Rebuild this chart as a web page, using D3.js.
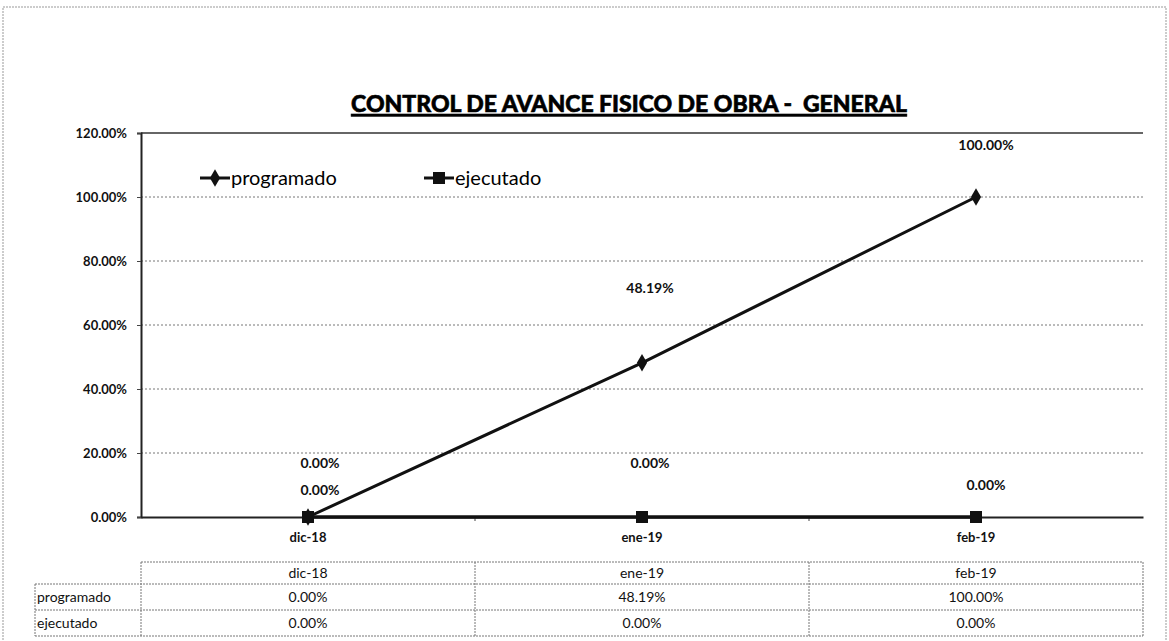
<!DOCTYPE html>
<html>
<head>
<meta charset="utf-8">
<script src="https://cdn.jsdelivr.net/npm/d3@7"></script>
<style>
  body { margin: 0; background: #fff; }
  svg { display: block; font-family: Lato, "Open Sans", sans-serif; }
</style>
</head>
<body>
<svg id="chart" width="1169" height="641"></svg>
<script>
// data
const categories = ['dic-18', 'ene-19', 'feb-19'];
const programado = [0, 0.4819, 1.0];
const ejecutado = [0, 0, 0];
const yTicks = [0, 0.2, 0.4, 0.6, 0.8, 1.0, 1.2];
const seriesNames = ['programado', 'ejecutado'];

const layout = {
  left: 141, right: 1143, top: 133, bottom: 517,
  tableTop: 562, headH: 22, rowH: 26, rowLabelX: 35
};

// labels were nudged by hand in the original sheet
const labelLift = {
  programado: [54, 75, 52],
  ejecutado: [27, 54, 32]
};
const labelShift = [12, 8, 10];

const fmt = d3.format('.2%');
const svg = d3.select('#chart');

const x = d3.scaleBand().domain(categories).range([layout.left, layout.right]);
const y = d3.scaleLinear().domain([0, 1.2]).range([layout.bottom, layout.top]);

// outer chart frame
svg.append('rect')
  .attr('x', 3).attr('y', 7).attr('width', 1163).attr('height', 640)
  .attr('fill', 'none').attr('stroke', '#999').attr('stroke-width', 1)
  .attr('stroke-dasharray', '2,1');

// title
svg.append('text')
  .attr('x', 629).attr('y', 112)
  .attr('text-anchor', 'middle')
  .attr('font-size', 23).attr('font-weight', 900)
  .attr('text-decoration', 'underline')
  .attr('stroke', '#000').attr('stroke-width', 0.6)
  .style('white-space', 'pre')
  .text('CONTROL DE AVANCE FISICO DE OBRA -  GENERAL');

// gridlines
svg.append('g')
  .selectAll('line')
  .data(yTicks.slice(1))
  .join('line')
    .attr('x1', layout.left).attr('x2', layout.right)
    .attr('y1', d => y(d)).attr('y2', d => y(d))
    .attr('stroke', d => d === 1.2 ? '#333' : '#777')
    .attr('stroke-width', d => d === 1.2 ? 1.5 : 1)
    .attr('stroke-dasharray', d => d === 1.2 ? null : '2,2');

// y axis
const yAxis = svg.append('g')
  .attr('transform', `translate(${layout.left},0)`)
  .call(d3.axisLeft(y).tickValues(yTicks).tickFormat(fmt).tickSize(4).tickPadding(10));
yAxis.select('.domain').attr('stroke', '#222').attr('stroke-width', 2);
yAxis.selectAll('.tick line').attr('stroke', '#444');
yAxis.selectAll('text')
  .attr('font-family', 'Lato, sans-serif')
  .attr('font-size', 13).attr('font-weight', 'bold').attr('fill', '#111');

// x axis
const xAxis = svg.append('g')
  .attr('transform', `translate(0,${layout.bottom})`)
  .call(d3.axisBottom(x).tickSize(0).tickPadding(16));
xAxis.select('.domain').attr('stroke', '#222').attr('stroke-width', 2);
xAxis.selectAll('text')
  .attr('font-family', 'Lato, sans-serif')
  .attr('font-size', 13).attr('font-weight', 'bold').attr('fill', '#111');
xAxis.selectAll('line.sep')
  .data(categories.slice(1))
  .join('line')
    .attr('class', 'sep')
    .attr('x1', d => x(d)).attr('x2', d => x(d))
    .attr('y1', 0).attr('y2', 4)
    .attr('stroke', '#444');

const cx = d => x(d) + x.bandwidth() / 2;
const line = d3.line().x(d => cx(d.cat)).y(d => y(d.v));
const series = {
  programado: categories.map((c, i) => ({cat: c, v: programado[i], i})),
  ejecutado: categories.map((c, i) => ({cat: c, v: ejecutado[i], i}))
};

// ejecutado line with squares
svg.append('path')
  .datum(series.ejecutado)
  .attr('d', line)
  .attr('fill', 'none').attr('stroke', '#111').attr('stroke-width', 3.5);
svg.append('g')
  .selectAll('rect')
  .data(series.ejecutado)
  .join('rect')
    .attr('x', d => cx(d.cat) - 6).attr('y', d => y(d.v) - 6)
    .attr('width', 12).attr('height', 12)
    .attr('fill', '#111');

// programado line with diamonds
const diamond = d3.symbol().type(d3.symbolDiamond).size(90);
svg.append('path')
  .datum(series.programado)
  .attr('d', line)
  .attr('fill', 'none').attr('stroke', '#111').attr('stroke-width', 3);
svg.append('g')
  .selectAll('path')
  .data(series.programado)
  .join('path')
    .attr('d', diamond)
    .attr('transform', d => `translate(${cx(d.cat)},${y(d.v)})`)
    .attr('fill', '#111');

// data labels
seriesNames.forEach(name => {
  svg.append('g')
    .selectAll('text')
    .data(series[name])
    .join('text')
      .attr('x', d => cx(d.cat) + labelShift[d.i])
      .attr('y', d => y(d.v) - labelLift[name][d.i] + 5)
      .attr('text-anchor', 'middle')
      .attr('font-size', 14).attr('font-weight', 'bold').attr('fill', '#111')
      .text(d => fmt(d.v));
});

// legend
const legend = svg.append('g');
legend.append('line').attr('x1', 200).attr('x2', 230).attr('y1', 178).attr('y2', 178)
  .attr('stroke', '#111').attr('stroke-width', 3);
legend.append('path').attr('d', diamond).attr('transform', 'translate(215,178)').attr('fill', '#111');
legend.append('text').attr('x', 231).attr('y', 185).attr('font-size', 20).text('programado');
legend.append('line').attr('x1', 424).attr('x2', 454).attr('y1', 178).attr('y2', 178)
  .attr('stroke', '#111').attr('stroke-width', 3);
legend.append('rect').attr('x', 433).attr('y', 172).attr('width', 12).attr('height', 12).attr('fill', '#111');
legend.append('text').attr('x', 455).attr('y', 185).attr('font-size', 20).text('ejecutado');

// data table under the chart
const table = svg.append('g')
  .attr('stroke', '#777').attr('stroke-width', 1).attr('stroke-dasharray', '2,1');
const t0 = layout.tableTop, t1 = t0 + layout.headH, t2 = t1 + layout.rowH, t3 = t2 + layout.rowH;
table.append('line').attr('x1', layout.left).attr('x2', layout.right).attr('y1', t0).attr('y2', t0);
[t1, t2, t3].forEach(ty => table.append('line')
  .attr('x1', layout.rowLabelX).attr('x2', layout.right).attr('y1', ty).attr('y2', ty));
table.append('line').attr('x1', layout.rowLabelX).attr('x2', layout.rowLabelX).attr('y1', t1).attr('y2', t3);
table.selectAll('line.col')
  .data(categories.concat(['end']))
  .join('line')
    .attr('class', 'col')
    .attr('x1', d => d === 'end' ? layout.right : x(d))
    .attr('x2', d => d === 'end' ? layout.right : x(d))
    .attr('y1', t0).attr('y2', t3);

const cells = svg.append('g').attr('font-size', 14).attr('fill', '#111');
cells.selectAll('text.head')
  .data(categories)
  .join('text')
    .attr('class', 'head')
    .attr('x', d => cx(d)).attr('y', t0 + 16)
    .attr('text-anchor', 'middle')
    .text(d => d);
seriesNames.forEach((name, r) => {
  const ry = t1 + r * layout.rowH + 18;
  cells.append('text').attr('x', layout.rowLabelX + 2).attr('y', ry).text(name);
  cells.selectAll(`text.v${r}`)
    .data(series[name])
    .join('text')
      .attr('class', `v${r}`)
      .attr('x', d => cx(d.cat)).attr('y', ry)
      .attr('text-anchor', 'middle')
      .text(d => fmt(d.v));
});
</script>
</body>
</html>
